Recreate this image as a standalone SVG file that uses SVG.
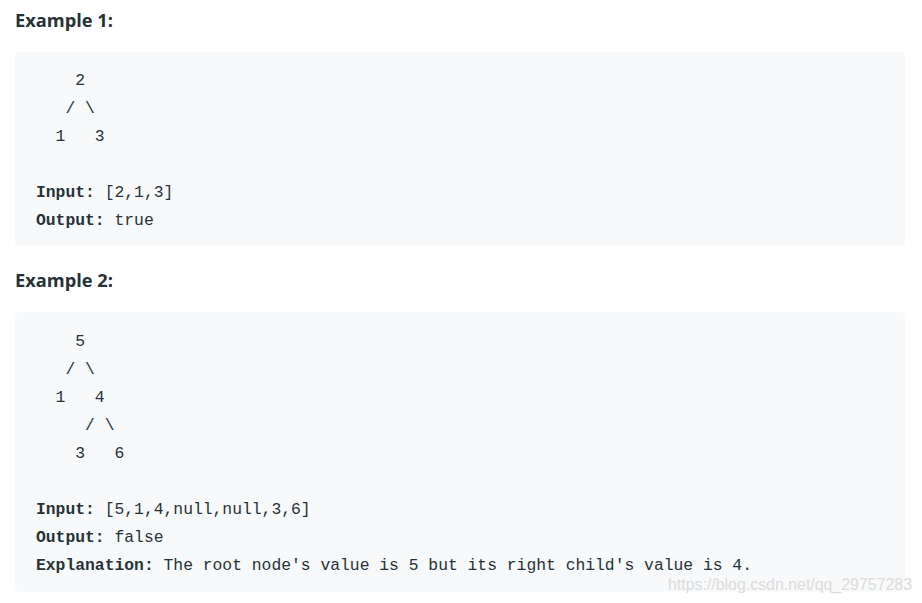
<svg xmlns="http://www.w3.org/2000/svg" width="922" height="603" viewBox="0 0 922 603">
<style>
.h{font-family:"Open Sans","Liberation Sans",Arial,sans-serif;font-weight:bold;font-size:18px;fill:#263238}
.m{font-family:"Liberation Mono","DejaVu Sans Mono",monospace;font-size:16.35px;fill:#263238;white-space:pre}
.b{font-weight:bold}
.box{fill:#f7f9fa}
.wm{font-family:"Liberation Sans",Arial,sans-serif;font-size:16px;fill:#dcdcdc}
</style>
<rect width="922" height="603" fill="#ffffff"/>
<g id="example1">
<text class="h" x="15" y="27" textLength="98" lengthAdjust="spacingAndGlyphs">Example 1:</text>
<rect class="box" x="15" y="52" width="890" height="194" rx="4"/>
<text class="m" x="36" y="85" xml:space="preserve">    2</text>
<text class="m" x="36" y="113" xml:space="preserve">   / \</text>
<text class="m" x="36" y="141" xml:space="preserve">  1   3</text>
<text class="m" x="36" y="197" xml:space="preserve"><tspan class="b">Input:</tspan> [2,1,3]</text>
<text class="m" x="36" y="225" xml:space="preserve"><tspan class="b">Output:</tspan> true</text>
</g>
<g id="example2">
<text class="h" x="15" y="287" textLength="98" lengthAdjust="spacingAndGlyphs">Example 2:</text>
<rect class="box" x="15" y="312" width="890" height="280" rx="4"/>
<text class="m" x="36" y="346" xml:space="preserve">    5</text>
<text class="m" x="36" y="374" xml:space="preserve">   / \</text>
<text class="m" x="36" y="402" xml:space="preserve">  1   4</text>
<text class="m" x="36" y="430" xml:space="preserve">     / \</text>
<text class="m" x="36" y="458" xml:space="preserve">    3   6</text>
<text class="m" x="36" y="514" xml:space="preserve"><tspan class="b">Input:</tspan> [5,1,4,null,null,3,6]</text>
<text class="m" x="36" y="542" xml:space="preserve"><tspan class="b">Output:</tspan> false</text>
<text class="m" x="36" y="570" xml:space="preserve"><tspan class="b">Explanation:</tspan> The root node's value is 5 but its right child's value is 4.</text>
</g>
<g id="watermark">
<text class="wm" x="668" y="590" textLength="244" lengthAdjust="spacingAndGlyphs">https://blog.csdn.net/qq_29757283</text>
</g>
</svg>
